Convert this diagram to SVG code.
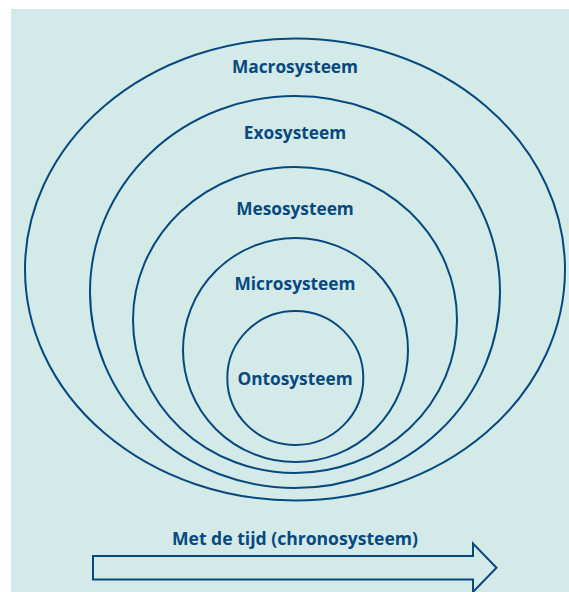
<svg xmlns="http://www.w3.org/2000/svg" width="569" height="592" viewBox="0 0 569 592">
<style>
.bg{fill:#d3eae8}
.ring{fill:none;stroke:#07497f;stroke-width:2}
.lbl{font-family:"Open Sans","Liberation Sans",sans-serif;font-weight:bold;font-size:17.3px;fill:#07497f;text-anchor:middle}
</style>
<rect x="0" y="0" width="569" height="592" fill="#ffffff"/>
<rect class="bg" x="11" y="9" width="558" height="583"/>
<g id="macrosysteem">
<ellipse class="ring" cx="295" cy="269.5" rx="270" ry="231"/>
<text class="lbl" x="295" y="72.5">Macrosysteem</text>
</g>
<g id="exosysteem">
<ellipse class="ring" cx="295" cy="292" rx="205" ry="196"/>
<text class="lbl" x="295" y="138.5">Exosysteem</text>
</g>
<g id="mesosysteem">
<ellipse class="ring" cx="295" cy="320" rx="162" ry="153"/>
<text class="lbl" x="295" y="215">Mesosysteem</text>
</g>
<g id="microsysteem">
<ellipse class="ring" cx="295.5" cy="350" rx="112.5" ry="112"/>
<text class="lbl" x="295" y="290">Microsysteem</text>
</g>
<g id="ontosysteem">
<ellipse class="ring" cx="295.3" cy="378" rx="68" ry="67"/>
<text class="lbl" x="295" y="385">Ontosysteem</text>
</g>
<g id="chronosysteem">
<polygon class="ring" points="93,556 473,556 473,543.5 496.5,567.7 473,592 473,579.5 93,579.5"/>
<text class="lbl" x="295" y="545" textLength="246" lengthAdjust="spacingAndGlyphs">Met de tijd (chronosysteem)</text>
</g>
</svg>
